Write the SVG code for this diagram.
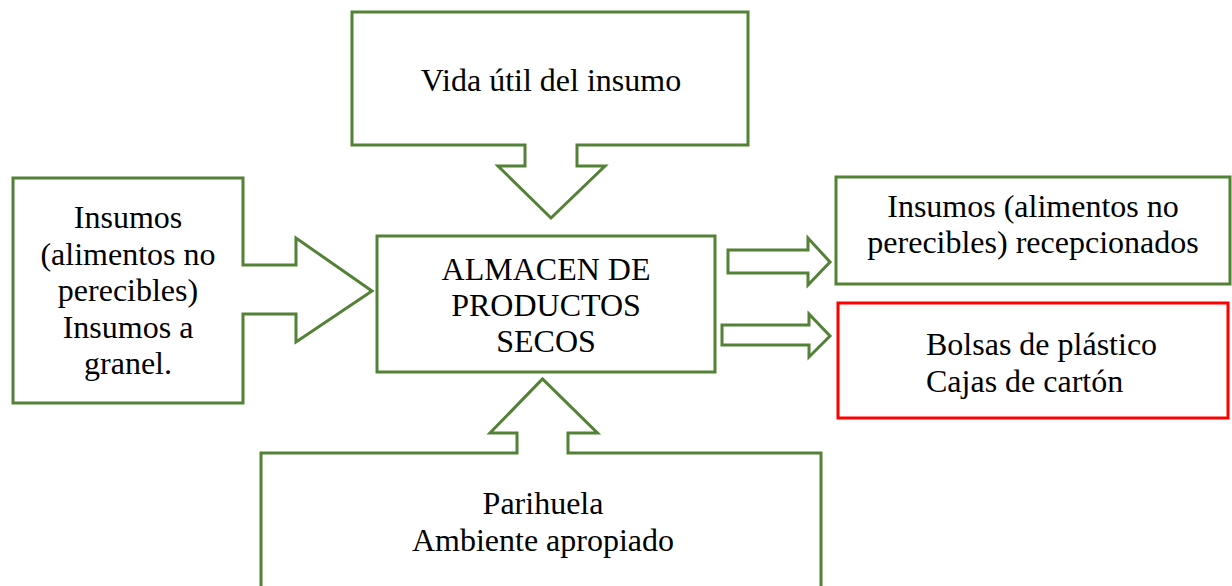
<svg xmlns="http://www.w3.org/2000/svg" width="1232" height="586" viewBox="0 0 1232 586">
<style>
.g{fill:#fff;stroke:#538135;stroke-width:3;stroke-linejoin:miter}
.r{fill:#fff;stroke:#ff0000;stroke-width:3}
text{font-family:"Liberation Serif","Times New Roman",serif;font-size:32px;fill:#000}
.c{text-anchor:middle}
</style>
<rect width="1232" height="586" fill="#fff"/>
<g id="vida-util">
<path class="g" d="M352,12 H748 V145 H577 V166 H605 L551,218 L498,166 H525 V145 H352 Z"/>
<text class="c" x="551" y="91">Vida útil del insumo</text>
</g>
<g id="insumos">
<path class="g" d="M13,178 H243 V265 H296 V238 L372,291 L296,342 V314 H243 V403 H13 Z"/>
<text class="c" x="128" y="228">Insumos</text>
<text class="c" x="128" y="264.5">(alimentos no</text>
<text class="c" x="128" y="301">perecibles)</text>
<text class="c" x="128" y="337.5">Insumos a</text>
<text class="c" x="128" y="374">granel.</text>
</g>
<g id="almacen">
<rect class="g" x="377" y="236" width="338" height="136"/>
<text class="c" x="546" y="280">ALMACEN DE</text>
<text class="c" x="546" y="316">PRODUCTOS</text>
<text class="c" x="546" y="352">SECOS</text>
</g>
<g id="parihuela">
<path class="g" d="M261,600 V453 H517 V433 H490 L542.5,379 L597.5,433 H568 V453 H821 V600"/>
<text class="c" x="543" y="514">Parihuela</text>
<text class="c" x="543" y="551">Ambiente apropiado</text>
</g>
<g id="recepcionados">
<rect class="g" x="836" y="177" width="394" height="107"/>
<text class="c" x="1033" y="217">Insumos (alimentos no</text>
<text class="c" x="1033" y="253">perecibles) recepcionados</text>
</g>
<g id="bolsas">
<rect class="r" x="838" y="303" width="390" height="115"/>
<text x="926" y="355">Bolsas de plástico</text>
<text x="926" y="392">Cajas de cartón</text>
</g>
<g id="connectors">
<path class="g" d="M728,250 H808 V238 L830,262 L808,285 V273 H728 Z"/>
<path class="g" d="M722,325 H809 V314 L830,336 L809,357 V345 H722 Z"/>
</g>
</svg>
